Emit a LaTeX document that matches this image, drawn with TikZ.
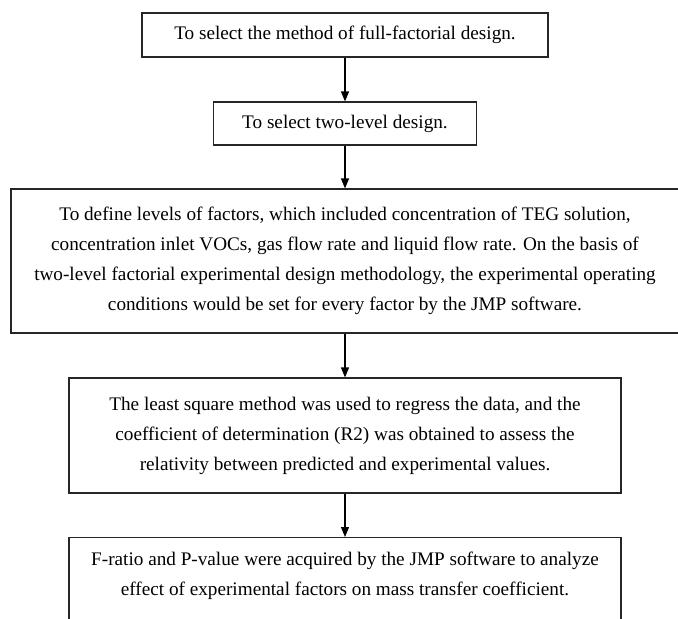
\documentclass[tikz,border=0pt]{standalone}
\usepackage{fontspec}
\setmainfont{Liberation Serif}
\usetikzlibrary{arrows.meta}
\begin{document}
\begin{tikzpicture}[x=1pt,y=-1pt,
  box/.style={draw=black!85, line width=1.2pt, rectangle, inner sep=0pt},
  txt/.style={align=center, font=\fontsize{19.2}{30}\selectfont},
  flow/.style={draw=black, line width=1.2pt, -{Triangle[length=10pt,width=8pt]}}]
\path[use as bounding box, clip] (0,0) rectangle (678,619);
\node[box, txt, minimum width=406pt, minimum height=44pt] (b1) at (345,35)
  {To select the method of full-factorial design.};
\node[box, txt, minimum width=263pt, minimum height=43pt] (b2) at (345,123.5)
  {To select two-level design.};
\node[box, txt, minimum width=668pt, minimum height=144pt] (b3) at (345,261)
  {To define levels of factors, which included concentration of TEG solution,\\
   concentration inlet VOCs, gas flow rate and liquid flow rate. On the basis of\\
   two-level factorial experimental design methodology, the experimental operating\\
   conditions would be set for every factor by the JMP software.};
\node[box, txt, minimum width=552pt, minimum height=115pt] (b4) at (345,435.5)
  {The least square method was used to regress the data, and the\\
   coefficient of determination (R2) was obtained to assess the\\
   relativity between predicted and experimental values.};
\node[box, minimum width=552pt, minimum height=100pt, anchor=north] (b5) at (345,537) {};
\node[txt] (t5) at (345,575.5)
  {F-ratio and P-value were acquired by the JMP software to analyze\\
   effect of experimental factors on mass transfer coefficient.};
\draw[flow] (b1.south) -- (b2.north);
\draw[flow] (b2.south) -- (b3.north);
\draw[flow] (b3.south) -- (b4.north);
\draw[flow] (b4.south) -- (b5.north);
\end{tikzpicture}
\end{document}
